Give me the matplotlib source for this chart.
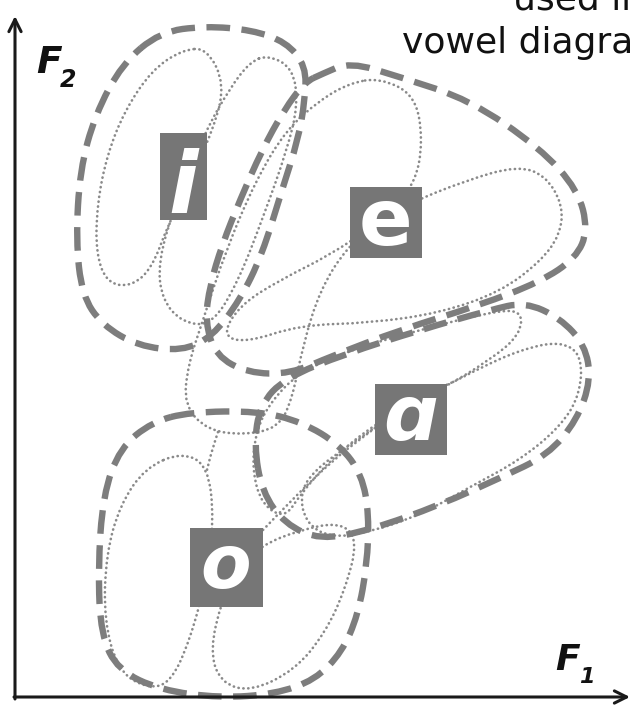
import numpy as np
import matplotlib
matplotlib.use('Agg')
import matplotlib.pyplot as plt
from matplotlib.path import Path
from matplotlib.patches import PathPatch, Rectangle

# outlines of the vowel regions, in picture units (x = F1 to the right, y downwards)
i_outer = [(160, 32), (205, 26), (252, 30), (286, 42), (306, 66), (305, 100), (298, 140), (282, 190),
           (262, 255), (240, 300), (212, 337), (182, 351), (138, 346), (102, 325), (82, 295), (76, 240),
           (80, 170), (95, 115), (122, 64)]
e_outer = [(322, 74), (350, 62), (400, 77), (470, 100), (540, 148), (578, 190), (588, 230), (576, 258),
           (540, 282), (480, 305), (400, 330), (332, 356), (290, 374), (248, 373), (216, 356), (205, 322),
           (210, 285), (222, 245), (240, 200), (262, 150), (284, 110), (305, 82)]
a_outer = [(254, 445), (260, 405), (285, 378), (345, 354), (420, 330), (490, 310), (525, 302), (560, 318),
           (585, 345), (591, 380), (577, 420), (548, 455), (500, 478), (440, 505), (370, 530), (320, 540),
           (285, 524), (262, 492)]
o_outer = [(190, 412), (258, 411), (302, 422), (340, 445), (362, 475), (369, 515), (367, 565), (358, 615),
           (342, 652), (315, 680), (275, 694), (220, 698), (160, 690), (118, 670), (101, 635), (98, 570),
           (103, 495), (120, 448), (152, 422)]

# speaker clusters (dotted)
i_dot1 = [(207, 48), (225, 85), (213, 130), (190, 180), (168, 225), (152, 268), (132, 286), (108, 284),
          (96, 255), (97, 205), (107, 155), (125, 110), (152, 70), (182, 50)]
i_dot2 = [(268, 55), (293, 68), (298, 105), (287, 150), (264, 215), (238, 282), (212, 325), (183, 323),
          (162, 300), (158, 262), (175, 205), (205, 132), (230, 88), (250, 62)]
e_dot1 = [(380, 78), (415, 95), (423, 140), (415, 185), (385, 215), (347, 247), (320, 290), (303, 345),
          (292, 400), (278, 428), (243, 435), (207, 430), (184, 405), (188, 365), (203, 320), (226, 250),
          (256, 180), (286, 130), (320, 100), (350, 83)]
e_dot2 = [(405, 205), (467, 180), (517, 166), (545, 175), (563, 205), (560, 235), (540, 262), (500, 292),
          (440, 313), (370, 323), (300, 325), (245, 343), (222, 335), (240, 305), (280, 280), (330, 255),
          (370, 228)]
a_dot1 = [(448, 385), (480, 368), (520, 350), (560, 341), (582, 355), (580, 395), (560, 427), (520, 460),
          (470, 487), (420, 515), (370, 532), (330, 538), (305, 522), (300, 492), (315, 470), (345, 448),
          (375, 428), (410, 400)]
a_dot2 = [(440, 390), (490, 360), (520, 335), (522, 310), (490, 312), (420, 330), (350, 350), (300, 372),
          (272, 400), (256, 430), (252, 470), (262, 505), (285, 518), (300, 495), (330, 460), (380, 420)]
o_dot1 = [(182, 452), (208, 466), (214, 520), (206, 580), (190, 640), (170, 684), (145, 688), (118, 670),
          (104, 620), (106, 555), (120, 505), (145, 468)]
o_dot2 = [(222, 600), (210, 650), (220, 682), (250, 692), (295, 670), (325, 633), (345, 590), (358, 540),
          (340, 522), (300, 530), (262, 545), (235, 570)]
links = [[(218, 432), (212, 450), (207, 470)],
         [(263, 530), (320, 470), (375, 428)]]

vowels = ['i', 'e', 'ɑ', 'o']
vowel_x = [183, 386, 411, 226]
vowel_y = [176, 222, 419, 567]

GREY = '#7d7d7d'
DOT_GREY = '#8a8a8a'
BOX_GREY = '#767676'
box_size = [(47, 87), (72, 71), (72, 71), (73, 79)]
letter_size = [62, 57, 55, 53]
letter_base = [213, 245, 440, 588]


def closed_path(pts):
    pts = np.asarray(pts, float)
    mids = (pts + np.roll(pts, -1, axis=0)) / 2
    verts = [mids[-1]]
    codes = [Path.MOVETO]
    for p, m in zip(pts, mids):
        verts += [p, m]
        codes += [Path.CURVE3, Path.CURVE3]
    return Path(verts, codes)


def open_path(pts):
    pts = np.asarray(pts, float)
    verts = [pts[0]]
    codes = [Path.MOVETO]
    for k in range(1, len(pts) - 1):
        verts += [pts[k], (pts[k] + pts[k + 1]) / 2]
        codes += [Path.CURVE3, Path.CURVE3]
    verts.append(pts[-1])
    codes.append(Path.LINETO)
    return Path(verts, codes)


fig = plt.figure(figsize=(6.35, 7.07), dpi=100, facecolor='white')
ax = fig.add_axes((0, 0, 1, 1))
ax.set_xlim(0, 635)
ax.set_ylim(707, 0)
ax.axis('off')

dot_style = dict(fill=False, edgecolor=DOT_GREY, lw=1.9, linestyle=(0, (0.1, 1.75)), capstyle='round', zorder=1)
for loop in [i_dot1, i_dot2, e_dot1, e_dot2, a_dot1, a_dot2, o_dot1, o_dot2]:
    ax.add_patch(PathPatch(closed_path(loop), **dot_style))
for ln in links:
    ax.add_patch(PathPatch(open_path(ln), **dot_style))

for loop in [i_outer, e_outer, a_outer, o_outer]:
    ax.add_patch(PathPatch(closed_path(loop), fill=False, edgecolor=GREY, lw=4.6,
                           linestyle=(0, (3.7, 1.8)), capstyle='butt', zorder=2))

for v, x, y, (w, h), fs, yb in zip(vowels, vowel_x, vowel_y, box_size, letter_size, letter_base):
    ax.add_patch(Rectangle((x - w / 2, y - h / 2), w, h, facecolor=BOX_GREY, edgecolor='none', zorder=3))
    ax.text(x, yb, v, color='white', fontsize=fs, fontweight='bold', style='italic' if v != 'e' else 'normal',
            ha='center', va='baseline', zorder=4)

# axes arrows
ax.annotate('', xy=(15, 16), xytext=(15, 699),
            arrowprops=dict(arrowstyle='->', lw=2.2, color='#1a1a1a', mutation_scale=22, shrinkA=0, shrinkB=0))
ax.annotate('', xy=(630, 697), xytext=(14, 697),
            arrowprops=dict(arrowstyle='->', lw=2.2, color='#1a1a1a', mutation_scale=22, shrinkA=0, shrinkB=0))
ax.text(36, 73, 'F', fontsize=27, fontweight='bold', style='italic', va='baseline', color='#111111')
ax.text(60, 87, '2', fontsize=17, fontweight='bold', style='italic', va='baseline', color='#111111')
ax.text(555, 670, 'F', fontsize=26, fontweight='bold', style='italic', va='baseline', color='#111111')
ax.text(579, 683, '1', fontsize=16, fontweight='bold', style='italic', va='baseline', color='#111111')

ax.text(513, 10, 'used in', fontsize=26, va='baseline', color='#111111')
ax.text(402, 53, 'vowel diagram', fontsize=26, va='baseline', color='#111111')

fig.savefig('out.png', dpi=100, facecolor='white')
